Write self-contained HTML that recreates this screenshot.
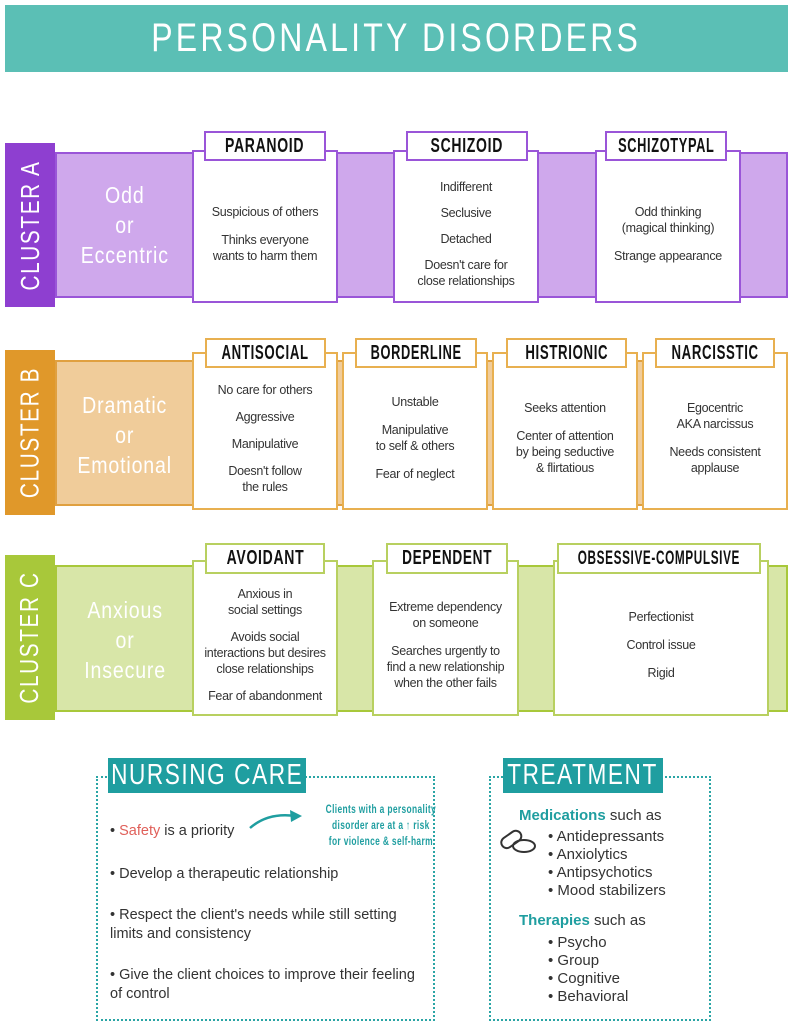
<!DOCTYPE html>
<html><head><meta charset="utf-8"><style>
*{margin:0;padding:0;box-sizing:border-box}
body{width:793px;height:1024px;background:#fff;position:relative;overflow:hidden;font-family:"Liberation Sans",sans-serif}
.a{position:absolute}
.n{display:inline-block;transform:scaleX(.75);white-space:nowrap}
.title{left:5px;top:5px;width:783px;height:67px;background:#5bbfb5;color:#fff;font-size:40px;letter-spacing:4px;text-align:center;line-height:67px}
.tab{width:50px;color:#fff;font-size:26px;letter-spacing:2px;display:flex;align-items:center;justify-content:center}
.tab span{transform:rotate(-90deg) scaleX(.8);white-space:nowrap}
.sub{color:#fff;font-size:23px;text-align:center;line-height:30px;letter-spacing:1px;display:flex;align-items:center;justify-content:center}
.card{background:#fff;border:2px solid;display:flex;flex-direction:column;align-items:center;justify-content:center;text-align:center;font-size:12.5px;color:#333;line-height:16px;gap:12px;padding-top:14px;letter-spacing:-.3px}
.lab{background:#fff;border:2px solid;text-align:center;font-size:20px;color:#111;font-weight:bold;letter-spacing:1px;display:flex;align-items:center;justify-content:center;overflow:visible}
.box{border:2px dotted #2aa5a5}
.hd{background:#1f9ea0;color:#fff;font-size:29px;letter-spacing:2px;display:flex;align-items:center;justify-content:center}
.ln{font-family:"Liberation Sans",sans-serif;font-size:14.5px;color:#333;line-height:19px}
</style></head><body>
<div class="a title"><span class="n" style="transform:scaleX(.8)">PERSONALITY DISORDERS</span></div>

<!-- Cluster A -->
<div class="a" style="left:55px;top:152px;width:733px;height:146px;background:#cfa8ec;border:2px solid #9a55d8"></div>
<div class="a tab" style="left:5px;top:143px;height:164px;background:#8e3fd0"><span>CLUSTER A</span></div>
<div class="a sub" style="left:60px;top:160px;width:130px;height:130px"><span class="n" style="transform:scaleX(.85)">Odd<br>or<br>Eccentric</span></div>
<div class="a card" style="left:192px;top:150px;width:146px;height:153px;border-color:#9a55d8"><div>Suspicious of others</div><div>Thinks everyone<br>wants to harm them</div></div>
<div class="a lab" style="left:204px;top:131px;width:122px;height:30px;border-color:#9a55d8"><span class="n" style="transform:scaleX(.7)">PARANOID</span></div>
<div class="a card" style="left:393px;top:150px;width:146px;height:153px;border-color:#9a55d8;gap:10px"><div>Indifferent</div><div>Seclusive</div><div>Detached</div><div>Doesn't care for<br>close relationships</div></div>
<div class="a lab" style="left:406px;top:131px;width:122px;height:30px;border-color:#9a55d8"><span class="n" style="transform:scaleX(.7)">SCHIZOID</span></div>
<div class="a card" style="left:595px;top:150px;width:146px;height:153px;border-color:#9a55d8"><div>Odd thinking<br>(magical thinking)</div><div>Strange appearance</div></div>
<div class="a lab" style="left:605px;top:131px;width:122px;height:30px;border-color:#9a55d8"><span class="n" style="transform:scaleX(.64)">SCHIZOTYPAL</span></div>

<!-- Cluster B -->
<div class="a" style="left:55px;top:360px;width:733px;height:146px;background:#f0cc9a;border:2px solid #e0a040"></div>
<div class="a tab" style="left:5px;top:350px;height:165px;background:#e0982a"><span>CLUSTER B</span></div>
<div class="a sub" style="left:60px;top:370px;width:130px;height:130px"><span class="n" style="transform:scaleX(.85)">Dramatic<br>or<br>Emotional</span></div>
<div class="a card" style="left:192px;top:352px;width:146px;height:158px;border-color:#e8b050;gap:11px"><div>No care for others</div><div>Aggressive</div><div>Manipulative</div><div>Doesn't follow<br>the rules</div></div>
<div class="a lab" style="left:205px;top:338px;width:121px;height:30px;border-color:#e8b050"><span class="n" style="transform:scaleX(.66)">ANTISOCIAL</span></div>
<div class="a card" style="left:342px;top:352px;width:146px;height:158px;border-color:#e8b050"><div>Unstable</div><div>Manipulative<br>to self &amp; others</div><div>Fear of neglect</div></div>
<div class="a lab" style="left:355px;top:338px;width:122px;height:30px;border-color:#e8b050"><span class="n" style="transform:scaleX(.64)">BORDERLINE</span></div>
<div class="a card" style="left:492px;top:352px;width:146px;height:158px;border-color:#e8b050"><div>Seeks attention</div><div>Center of attention<br>by being seductive<br>&amp; flirtatious</div></div>
<div class="a lab" style="left:506px;top:338px;width:121px;height:30px;border-color:#e8b050"><span class="n" style="transform:scaleX(.66)">HISTRIONIC</span></div>
<div class="a card" style="left:642px;top:352px;width:146px;height:158px;border-color:#e8b050"><div>Egocentric<br>AKA narcissus</div><div>Needs consistent<br>applause</div></div>
<div class="a lab" style="left:655px;top:338px;width:120px;height:30px;border-color:#e8b050"><span class="n" style="transform:scaleX(.66)">NARCISSTIC</span></div>

<!-- Cluster C -->
<div class="a" style="left:55px;top:565px;width:733px;height:147px;background:#d8e6a8;border:2px solid #a8c83a"></div>
<div class="a tab" style="left:5px;top:555px;height:165px;background:#a8c83a"><span>CLUSTER C</span></div>
<div class="a sub" style="left:60px;top:575px;width:130px;height:130px"><span class="n" style="transform:scaleX(.85)">Anxious<br>or<br>Insecure</span></div>
<div class="a card" style="left:192px;top:560px;width:146px;height:156px;border-color:#b8d060;gap:11px"><div>Anxious in<br>social settings</div><div>Avoids social<br>interactions but desires<br>close relationships</div><div>Fear of abandonment</div></div>
<div class="a lab" style="left:205px;top:543px;width:120px;height:31px;border-color:#b8d060"><span class="n" style="transform:scaleX(.7)">AVOIDANT</span></div>
<div class="a card" style="left:372px;top:560px;width:147px;height:156px;border-color:#b8d060"><div>Extreme dependency<br>on someone</div><div>Searches urgently to<br>find a new relationship<br>when the other fails</div></div>
<div class="a lab" style="left:386px;top:543px;width:122px;height:31px;border-color:#b8d060"><span class="n" style="transform:scaleX(.68)">DEPENDENT</span></div>
<div class="a card" style="left:553px;top:560px;width:216px;height:156px;border-color:#b8d060"><div>Perfectionist</div><div>Control issue</div><div>Rigid</div></div>
<div class="a lab" style="left:557px;top:543px;width:204px;height:31px;border-color:#b8d060;font-size:19px"><span class="n" style="transform:scaleX(.62)">OBSESSIVE-COMPULSIVE</span></div>

<!-- Nursing care -->
<div class="a box" style="left:96px;top:776px;width:339px;height:245px"></div>
<div class="a hd" style="left:108px;top:758px;width:198px;height:35px"><span class="n" style="transform:scaleX(.78)">NURSING CARE</span></div>
<div class="a ln" style="left:110px;top:822px">• <span style="color:#e0605a">Safety</span> is a priority</div>
<svg class="a" style="left:246px;top:808px" width="60" height="24"><path d="M4 20 Q22 4 50 8" fill="none" stroke="#1f9ea0" stroke-width="2.5"/><path d="M44 2 L56 8 L45 14 Z" fill="#1f9ea0"/></svg>
<div class="a" style="left:302px;top:801px;width:152px;text-align:center;color:#1f9ea0;font-size:12px;line-height:16px;letter-spacing:.5px;font-weight:bold"><span class="n" style="transform:scaleX(.7)">Clients with a personality<br>disorder are at a ↑ risk<br>for violence &amp; self-harm</span></div>
<div class="a ln" style="left:110px;top:865px">• Develop a therapeutic relationship</div>
<div class="a ln" style="left:110px;top:906px;width:310px">• Respect the client's needs while still setting limits and consistency</div>
<div class="a ln" style="left:110px;top:966px;width:310px">• Give the client choices to improve their feeling of control</div>

<!-- Treatment -->
<div class="a box" style="left:489px;top:776px;width:222px;height:245px"></div>
<div class="a hd" style="left:503px;top:758px;width:160px;height:35px"><span class="n" style="transform:scaleX(.78)">TREATMENT</span></div>
<div class="a ln" style="left:519px;top:806px;font-size:15px"><b style="color:#1f9ea0">Medications</b> such as</div>
<svg class="a" style="left:498px;top:828px" width="40" height="28"><g fill="none" stroke="#333" stroke-width="2"><rect x="2" y="6" width="22" height="11" rx="5.5" transform="rotate(-35 13 11)"/><ellipse cx="26" cy="18" rx="11" ry="6"/></g></svg>
<div class="a ln" style="left:548px;top:828px;font-size:15px;line-height:18px">• Antidepressants<br>• Anxiolytics<br>• Antipsychotics<br>• Mood stabilizers</div>
<div class="a ln" style="left:519px;top:911px;font-size:15px"><b style="color:#1f9ea0">Therapies</b> such as</div>
<div class="a ln" style="left:548px;top:934px;font-size:15px;line-height:18px">• Psycho<br>• Group<br>• Cognitive<br>• Behavioral</div>
</body></html>
